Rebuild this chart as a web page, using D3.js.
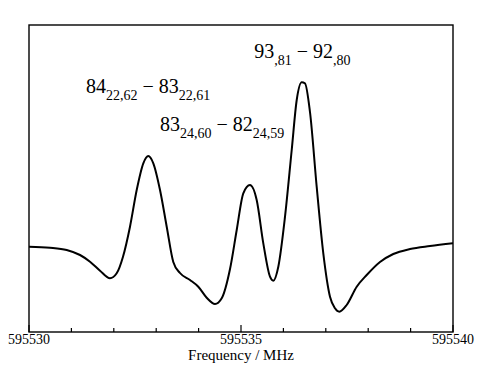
<!DOCTYPE html>
<html>
<head>
<meta charset="utf-8">
<script src="https://cdn.jsdelivr.net/npm/d3@7"></script>
<style>
  body { margin: 0; background: #fff; }
</style>
</head>
<body>
<div id="chart"></div>
<script>
const F0 = 595530;
// frequency offset from 595530 MHz
const freqOffset = [
  0, 0.495, 0.889, 1.203, 1.439, 1.675, 1.910, 2.068, 2.217, 2.382,
  2.540, 2.696, 2.814, 2.932, 3.090, 3.248, 3.403, 3.561, 3.797, 3.993,
  4.191, 4.387, 4.545, 4.741, 4.899, 5.054, 5.212, 5.370, 5.526, 5.684,
  5.762, 5.880, 6.038, 6.196, 6.314, 6.432, 6.509, 6.627, 6.785, 6.941,
  7.099, 7.217, 7.318, 7.493, 7.729, 7.965, 8.278, 8.592, 8.986, 9.458, 10
];
// signal, arbitrary units
const intensity = [
  85.3, 84.3, 82, 77, 70.3, 61.3, 53.7, 58.7, 75.3, 105.3,
  142, 168.7, 176, 168.7, 142, 105.3, 70, 59, 52, 45.3,
  34.3, 28, 33.7, 63, 102, 138.7, 147, 132, 88.7, 55.3,
  51.3, 65.3, 115.3, 182, 232, 249.7, 248.7, 220, 145.3, 78.7,
  35.3, 23.7, 20.3, 27, 45.3, 57, 70, 78, 83, 86, 88.7
];
const majorTicks = [595530, 595535, 595540];
const minorTicks = [595531, 595532, 595533, 595534, 595536, 595537, 595538, 595539];

// line labels: [main, sub] pairs
const labels = [
  { parts: [["93", ",81"], ["92", ",80"]], f: 595535.31, y: 58 },
  { parts: [["84", "22,62"], ["83", "22,61"]], f: 595531.345, y: 93 },
  { parts: [["83", "24,60"], ["82", "24,59"]], f: 595533.09, y: 131 }
];

const W = 480, H = 371;
const M = { top: 25, right: 27, bottom: 39, left: 29 };

const svg = d3.select("#chart").append("svg")
  .attr("width", W).attr("height", H)
  .attr("font-family", "Liberation Serif");

const x = d3.scaleLinear().domain([F0, F0 + 10]).range([M.left, W - M.right]);
const y = d3.scaleLinear().domain([0, 307]).range([H - M.bottom, M.top]);

const series = freqOffset.map((d, i) => ({ f: F0 + d, v: intensity[i] }));

// frame
svg.append("rect")
  .attr("x", x(F0)).attr("y", y(307))
  .attr("width", x(F0 + 10) - x(F0)).attr("height", y(0) - y(307))
  .attr("fill", "none").attr("stroke", "#000").attr("stroke-width", 1.4);

// ticks pointing in
svg.append("g")
  .selectAll("line")
  .data(majorTicks.map(t => ({ t, len: 7 })).concat(minorTicks.map(t => ({ t, len: 4 }))))
  .join("line")
  .attr("x1", d => x(d.t)).attr("x2", d => x(d.t))
  .attr("y1", y(0)).attr("y2", d => y(0) - d.len)
  .attr("stroke", "#000").attr("stroke-width", 1.2);

svg.append("g")
  .selectAll("text")
  .data(majorTicks)
  .join("text")
  .attr("x", d => x(d)).attr("y", 344)
  .attr("text-anchor", "middle")
  .attr("font-size", 14)
  .text(d => d);

svg.append("text")
  .attr("x", (x(F0) + x(F0 + 10)) / 2).attr("y", 360)
  .attr("text-anchor", "middle")
  .attr("font-size", 15)
  .text("Frequency / MHz");

// spectrum trace
const line = d3.line()
  .curve(d3.curveMonotoneX)
  .x(d => x(d.f))
  .y(d => y(d.v));

svg.append("path")
  .datum(series)
  .attr("fill", "none")
  .attr("stroke", "#000")
  .attr("stroke-width", 2)
  .attr("stroke-linejoin", "round")
  .attr("d", line);

// transition labels
labels.forEach(lab => {
  const t = svg.append("text")
    .attr("x", x(lab.f)).attr("y", lab.y)
    .attr("font-size", 20);
  lab.parts.forEach((p, i) => {
    if (i > 0) t.append("tspan").attr("dy", -7).text(" \u2212 ");
    t.append("tspan").text(p[0]);
    t.append("tspan").attr("dy", 7).attr("font-size", 14).text(p[1]);
  });
});
</script>
</body>
</html>
